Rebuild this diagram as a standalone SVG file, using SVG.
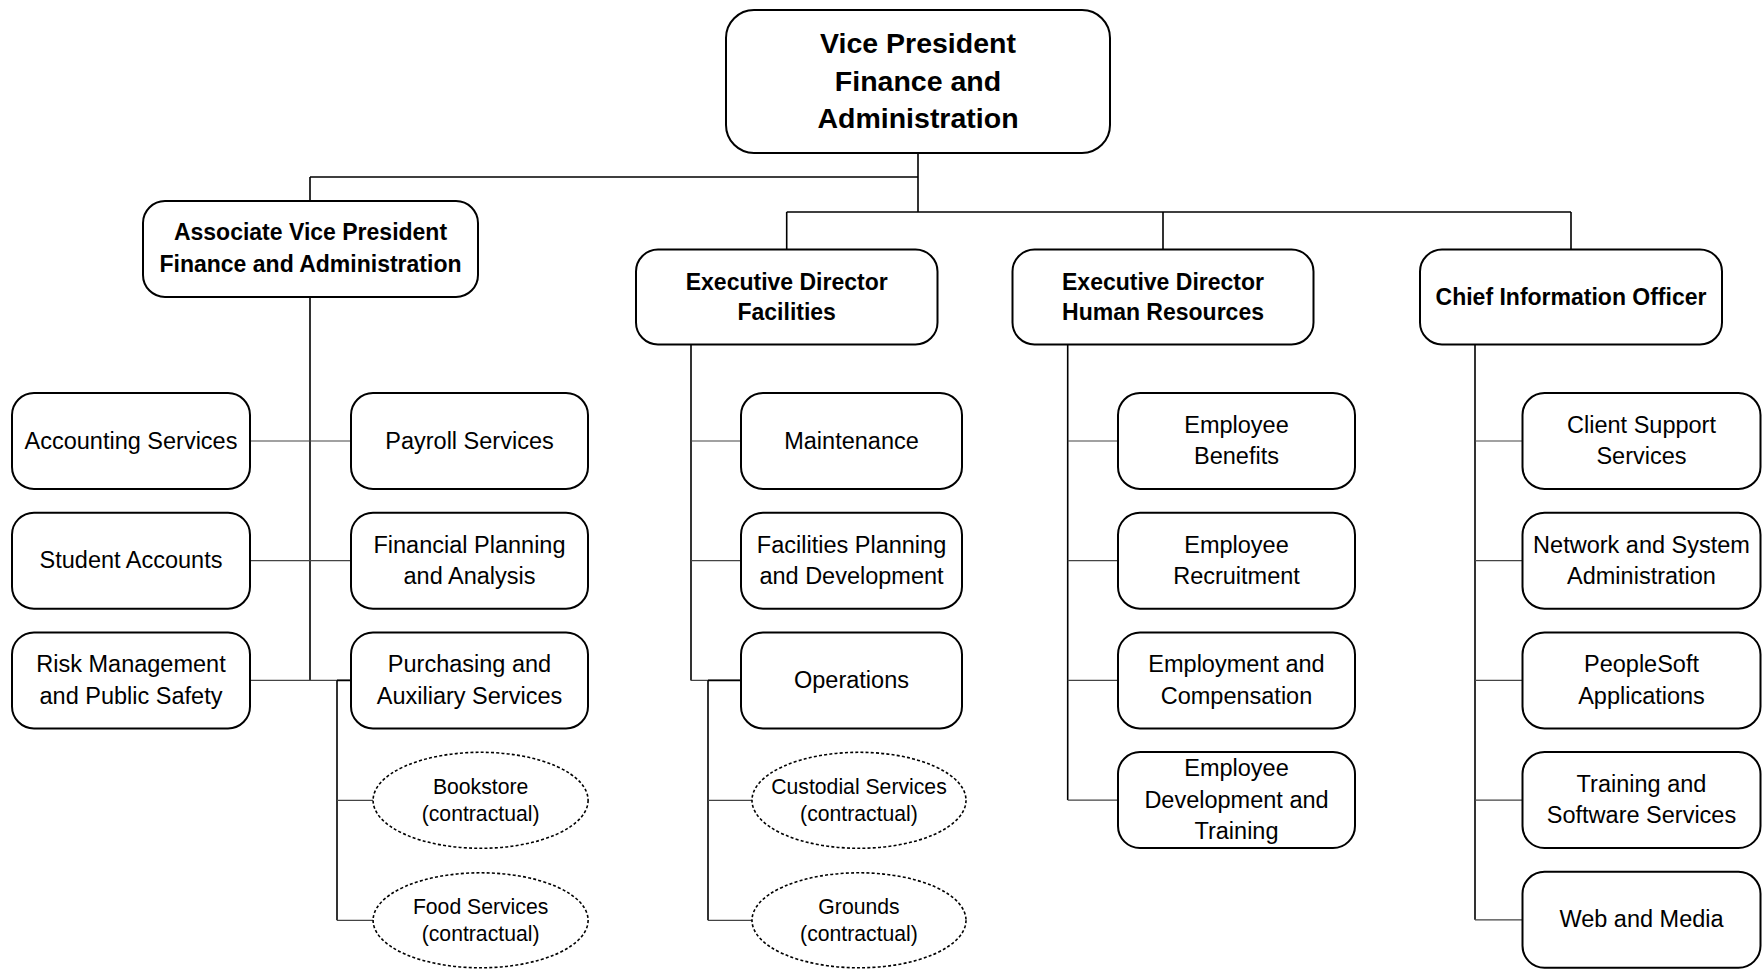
<svg xmlns="http://www.w3.org/2000/svg" width="1762" height="969" viewBox="0 0 1762 969">
<style>
.box{fill:#fff;stroke:#000;stroke-width:2}
.ell{fill:#fff;stroke:#000;stroke-width:1.6;stroke-dasharray:3 2.2}
.t{font-family:"Liberation Sans",Arial,sans-serif;font-size:23.5px;fill:#000;text-anchor:middle}
.h{font-family:"Liberation Sans",Arial,sans-serif;font-size:23px;font-weight:bold;fill:#000;text-anchor:middle}
.vp{font-family:"Liberation Sans",Arial,sans-serif;font-size:28.5px;font-weight:bold;fill:#000;text-anchor:middle}
.e{font-family:"Liberation Sans",Arial,sans-serif;font-size:21.2px;fill:#000;text-anchor:middle}
.trunk{stroke:#000;stroke-width:1.6;fill:none}
.stub{stroke:#444;stroke-width:1.2;fill:none}
</style>
<rect width="1762" height="969" fill="#fff"/>
<g id="connectors">
<path class="trunk" d="M918 153V212M310 177H918M310 177V201M786.7 212H1571M786.7 212V249.5M1163 212V249.5M1571 212V249.5"/>
<path class="trunk" d="M310 297V680.4M691 344.5V680.4M1067.7 344.5V800.1M1475 344.5V919.8"/>
<path class="stub" d="M250 441H351M250 560.7H351M250 680.4H351"/>
<path class="trunk" d="M337 680.4V920.3M337 680.4H351"/>
<path class="stub" d="M337 800.3H373M337 920.3H373"/>
<path class="stub" d="M691 441H741M691 560.7H741M691 680.4H741"/>
<path class="trunk" d="M708 680.4V920.3M708 680.4H741"/>
<path class="stub" d="M708 800.3H752M708 920.3H752"/>
<path class="stub" d="M1067.7 441H1118M1067.7 560.7H1118M1067.7 680.4H1118M1067.7 800.1H1118"/>
<path class="stub" d="M1475 441H1522.5M1475 560.7H1522.5M1475 680.4H1522.5M1475 800.1H1522.5M1475 919.8H1522.5"/>
</g>
<g id="vp"><rect class="box" x="726" y="10" width="384" height="143" rx="28"/>
<text class="vp" x="918" y="53">Vice President</text><text class="vp" x="918" y="91">Finance and</text><text class="vp" x="918" y="128">Administration</text></g>
<g id="avp"><rect class="box" x="143" y="201" width="335" height="96" rx="22"/>
<text class="h" x="310.5" y="240">Associate Vice President</text><text class="h" x="310.5" y="271.5">Finance and Administration</text></g>
<g id="facilities"><rect class="box" x="636" y="249.5" width="301.5" height="95" rx="22"/>
<text class="h" x="786.7" y="289.5">Executive Director</text><text class="h" x="786.7" y="320">Facilities</text></g>
<g id="hr"><rect class="box" x="1012.5" y="249.5" width="301" height="95" rx="22"/>
<text class="h" x="1163" y="289.5">Executive Director</text><text class="h" x="1163" y="320">Human Resources</text></g>
<g id="cio"><rect class="box" x="1420" y="249.5" width="302" height="95" rx="22"/>
<text class="h" x="1571" y="304.5">Chief Information Officer</text></g>

<g id="accounting"><rect class="box" x="12" y="393" width="238" height="96" rx="22"/><text class="t" x="131" y="448.5">Accounting Services</text></g>
<g id="student"><rect class="box" x="12" y="512.7" width="238" height="96" rx="22"/><text class="t" x="131" y="568.2">Student Accounts</text></g>
<g id="risk"><rect class="box" x="12" y="632.4" width="238" height="96" rx="22"/><text class="t" x="131" y="672.2">Risk Management</text><text class="t" x="131" y="703.7">and Public Safety</text></g>
<g id="payroll"><rect class="box" x="351" y="393" width="237" height="96" rx="22"/><text class="t" x="469.5" y="448.5">Payroll Services</text></g>
<g id="finplan"><rect class="box" x="351" y="512.7" width="237" height="96" rx="22"/><text class="t" x="469.5" y="552.5">Financial Planning</text><text class="t" x="469.5" y="584">and Analysis</text></g>
<g id="purchasing"><rect class="box" x="351" y="632.4" width="237" height="96" rx="22"/><text class="t" x="469.5" y="672.2">Purchasing and</text><text class="t" x="469.5" y="703.7">Auxiliary Services</text></g>
<g id="bookstore"><ellipse class="ell" cx="480.6" cy="800.3" rx="107.5" ry="48"/><text class="e" x="480.6" y="793.5">Bookstore</text><text class="e" x="480.6" y="820.5">(contractual)</text></g>
<g id="food"><ellipse class="ell" cx="480.6" cy="920.3" rx="107.5" ry="47.5"/><text class="e" x="480.6" y="913.5">Food Services</text><text class="e" x="480.6" y="940.5">(contractual)</text></g>

<g id="maintenance"><rect class="box" x="741" y="393" width="221" height="96" rx="22"/><text class="t" x="851.5" y="448.5">Maintenance</text></g>
<g id="facplan"><rect class="box" x="741" y="512.7" width="221" height="96" rx="22"/><text class="t" x="851.5" y="552.5">Facilities Planning</text><text class="t" x="851.5" y="584">and Development</text></g>
<g id="operations"><rect class="box" x="741" y="632.4" width="221" height="96" rx="22"/><text class="t" x="851.5" y="688">Operations</text></g>
<g id="custodial"><ellipse class="ell" cx="859" cy="800.3" rx="107" ry="48"/><text class="e" x="859" y="793.5">Custodial Services</text><text class="e" x="859" y="820.5">(contractual)</text></g>
<g id="grounds"><ellipse class="ell" cx="859" cy="920.3" rx="107" ry="47.5"/><text class="e" x="859" y="913.5">Grounds</text><text class="e" x="859" y="940.5">(contractual)</text></g>

<g id="benefits"><rect class="box" x="1118" y="393" width="237" height="96" rx="22"/><text class="t" x="1236.5" y="432.8">Employee</text><text class="t" x="1236.5" y="464.3">Benefits</text></g>
<g id="recruitment"><rect class="box" x="1118" y="512.7" width="237" height="96" rx="22"/><text class="t" x="1236.5" y="552.5">Employee</text><text class="t" x="1236.5" y="584">Recruitment</text></g>
<g id="employment"><rect class="box" x="1118" y="632.4" width="237" height="96" rx="22"/><text class="t" x="1236.5" y="672.2">Employment and</text><text class="t" x="1236.5" y="703.7">Compensation</text></g>
<g id="development"><rect class="box" x="1118" y="752.1" width="237" height="96" rx="22"/><text class="t" x="1236.5" y="776.2">Employee</text><text class="t" x="1236.5" y="807.7">Development and</text><text class="t" x="1236.5" y="839.2">Training</text></g>

<g id="client"><rect class="box" x="1522.5" y="393" width="238" height="96" rx="22"/><text class="t" x="1641.5" y="432.8">Client Support</text><text class="t" x="1641.5" y="464.3">Services</text></g>
<g id="network"><rect class="box" x="1522.5" y="512.7" width="238" height="96" rx="22"/><text class="t" x="1641.5" y="552.5">Network and System</text><text class="t" x="1641.5" y="584">Administration</text></g>
<g id="peoplesoft"><rect class="box" x="1522.5" y="632.4" width="238" height="96" rx="22"/><text class="t" x="1641.5" y="672.2">PeopleSoft</text><text class="t" x="1641.5" y="703.7">Applications</text></g>
<g id="training"><rect class="box" x="1522.5" y="752.1" width="238" height="96" rx="22"/><text class="t" x="1641.5" y="791.9">Training and</text><text class="t" x="1641.5" y="823.4">Software Services</text></g>
<g id="web"><rect class="box" x="1522.5" y="871.8" width="238" height="96" rx="22"/><text class="t" x="1641.5" y="927.3">Web and Media</text></g>
</svg>
